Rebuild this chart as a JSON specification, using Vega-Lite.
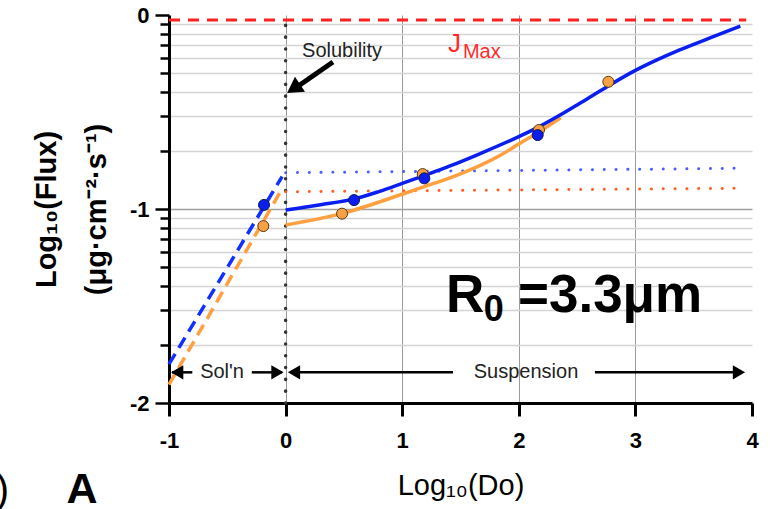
{
  "$schema": "https://vega.github.io/schema/vega-lite/v6.json",
  "width": 583,
  "height": 388,
  "autosize": {"type": "none"},
  "padding": {"left": 169, "top": 15, "right": 23, "bottom": 106},
  "background": "white",
  "config": {
    "view": {"stroke": null},
    "font": "Liberation Sans",
    "text": {"font": "Liberation Sans"}
  },
  "data": {"values": [{}]},
  "datasets": {
    "curves": [
      {"curve": "blue_fit", "x": 0, "y": -1.005},
      {"curve": "blue_fit", "x": 0.3, "y": -0.978},
      {"curve": "blue_fit", "x": 0.59, "y": -0.948},
      {"curve": "blue_fit", "x": 0.8, "y": -0.91},
      {"curve": "blue_fit", "x": 1.0, "y": -0.868},
      {"curve": "blue_fit", "x": 1.2, "y": -0.825},
      {"curve": "blue_fit", "x": 1.41, "y": -0.778},
      {"curve": "blue_fit", "x": 1.67, "y": -0.714},
      {"curve": "blue_fit", "x": 2.0, "y": -0.627},
      {"curve": "blue_fit", "x": 2.18, "y": -0.574},
      {"curve": "blue_fit", "x": 2.35, "y": -0.517},
      {"curve": "blue_fit", "x": 2.52, "y": -0.456},
      {"curve": "blue_fit", "x": 2.75, "y": -0.372},
      {"curve": "blue_fit", "x": 2.98, "y": -0.292},
      {"curve": "blue_fit", "x": 3.18, "y": -0.233},
      {"curve": "blue_fit", "x": 3.38, "y": -0.18},
      {"curve": "blue_fit", "x": 3.64, "y": -0.118},
      {"curve": "blue_fit", "x": 3.9, "y": -0.057},
      {"curve": "orange_fit", "x": 0, "y": -1.082},
      {"curve": "orange_fit", "x": 0.48, "y": -1.024},
      {"curve": "orange_fit", "x": 1.0, "y": -0.924},
      {"curve": "orange_fit", "x": 1.19, "y": -0.885},
      {"curve": "orange_fit", "x": 1.45, "y": -0.83},
      {"curve": "orange_fit", "x": 1.67, "y": -0.775},
      {"curve": "orange_fit", "x": 1.85, "y": -0.72},
      {"curve": "orange_fit", "x": 2.0, "y": -0.665},
      {"curve": "orange_fit", "x": 2.18, "y": -0.6},
      {"curve": "orange_fit", "x": 2.36, "y": -0.53},
      {"curve": "blue_plateau", "x": 0.0, "y": -0.813},
      {"curve": "blue_plateau", "x": 3.9, "y": -0.79},
      {"curve": "orange_plateau", "x": 0.0, "y": -0.911},
      {"curve": "orange_plateau", "x": 3.9, "y": -0.893},
      {"curve": "blue_soln", "x": -1, "y": -1.8},
      {"curve": "blue_soln", "x": -0.03, "y": -0.833},
      {"curve": "orange_soln", "x": -1, "y": -1.905},
      {"curve": "orange_soln", "x": -0.045, "y": -0.911}
    ],
    "points": [
      {"series": "blue", "x": -0.185, "y": -0.979},
      {"series": "blue", "x": 0.587, "y": -0.954},
      {"series": "blue", "x": 1.19, "y": -0.842},
      {"series": "blue", "x": 2.162, "y": -0.619},
      {"series": "orange", "x": -0.191, "y": -1.088},
      {"series": "orange", "x": 0.484, "y": -1.024},
      {"series": "orange", "x": 1.176, "y": -0.82},
      {"series": "orange", "x": 2.173, "y": -0.593},
      {"series": "orange", "x": 2.768, "y": -0.344}
    ]
  },
  "layer": [
    {
      "mark": {"type": "rule", "color": "#333333", "strokeWidth": 3.5, "strokeDash": [0.1, 11.7], "strokeCap": "round"},
      "encoding": {
        "x": {"datum": 0},
        "y": {"datum": -2},
        "y2": {"datum": 0}
      }
    },
    {
      "mark": {"type": "rule", "color": "#ff2020", "strokeWidth": 3, "strokeDash": [11, 8]},
      "encoding": {
        "x": {"datum": -1},
        "x2": {"datum": 3.95},
        "y": {"datum": -0.026}
      }
    },
    {
      "data": {"name": "curves"},
      "transform": [{"filter": "datum.curve === 'orange_plateau'"}],
      "mark": {"type": "line", "color": "#ff5e26", "strokeWidth": 3, "strokeDash": [0.1, 11.7], "strokeCap": "round"},
      "encoding": {
        "x": {"field": "x", "type": "quantitative"},
        "y": {"field": "y", "type": "quantitative"}
      }
    },
    {
      "data": {"name": "curves"},
      "transform": [{"filter": "datum.curve === 'blue_plateau'"}],
      "mark": {"type": "line", "color": "#4b5dff", "strokeWidth": 3, "strokeDash": [0.1, 11.7], "strokeCap": "round"},
      "encoding": {
        "x": {"field": "x", "type": "quantitative"},
        "y": {"field": "y", "type": "quantitative"}
      }
    },
    {
      "data": {"name": "curves"},
      "transform": [{"filter": "datum.curve === 'orange_soln'"}],
      "mark": {"type": "line", "color": "#ff9f40", "strokeWidth": 3.5, "strokeDash": [12, 7]},
      "encoding": {
        "x": {"field": "x", "type": "quantitative"},
        "y": {"field": "y", "type": "quantitative"}
      }
    },
    {
      "data": {"name": "curves"},
      "transform": [{"filter": "datum.curve === 'blue_soln'"}],
      "mark": {"type": "line", "color": "#1030ff", "strokeWidth": 3.5, "strokeDash": [12, 7]},
      "encoding": {
        "x": {"field": "x", "type": "quantitative"},
        "y": {"field": "y", "type": "quantitative"}
      }
    },
    {
      "data": {"name": "curves"},
      "transform": [{"filter": "datum.curve === 'orange_fit'"}],
      "mark": {"type": "line", "color": "#ffa040", "strokeWidth": 3.5, "interpolate": "monotone"},
      "encoding": {
        "x": {"field": "x", "type": "quantitative"},
        "y": {"field": "y", "type": "quantitative"}
      }
    },
    {
      "data": {"name": "curves"},
      "transform": [{"filter": "datum.curve === 'blue_fit'"}],
      "mark": {"type": "line", "color": "#0a1ef0", "strokeWidth": 3.5, "interpolate": "monotone"},
      "encoding": {
        "x": {"field": "x", "type": "quantitative"},
        "y": {"field": "y", "type": "quantitative"}
      }
    },
    {
      "data": {"name": "points"},
      "transform": [{"filter": "datum.series === 'orange'"}],
      "mark": {"type": "point", "shape": "circle", "filled": true, "fill": "#f7a145", "stroke": "#5a3a10", "strokeWidth": 1, "size": 121, "opacity": 1},
      "encoding": {
        "x": {
          "field": "x", "type": "quantitative",
          "scale": {"domain": [-1, 4], "nice": false, "zero": false},
          "axis": {
            "title": "Log₁₀(Do)",
            "values": [-1, 0, 1, 2, 3, 4],
            "tickCount": 100,
            "labelExpr": "datum.value < 0 ? '-' + abs(datum.value) : '' + datum.value",
            "labelFont": "Liberation Sans",
            "labelFontWeight": "bold",
            "labelFontSize": 22,
            "labelColor": "black",
            "labelPadding": 14,
            "labelFlush": false,
            "labelOverlap": false,
            "tickSize": 13,
            "tickWidth": 3,
            "tickColor": "black",
            "domainColor": "black",
            "domainWidth": 3,
            "grid": true,
            "gridColor": {"condition": {"test": "datum.value >= 0 && datum.value <= 3", "value": "#9a9a9a"}, "value": "rgba(0,0,0,0)"},
            "gridWidth": 1,
            "titleFont": "Liberation Sans",
            "titleFontSize": 29,
            "titleFontWeight": "normal",
            "titleColor": "black",
            "titlePadding": 20
          }
        },
        "y": {
          "field": "y", "type": "quantitative",
          "scale": {"domain": [-2, 0], "nice": false, "zero": false},
          "axis": {
            "title": ["Log₁₀(Flux)", "(μg·cm⁻²·s⁻¹)"],
            "values": [0, -0.0458, -0.0969, -0.1549, -0.2218, -0.301, -0.3979, -0.5229, -0.699, -1, -1.0458, -1.0969, -1.1549, -1.2218, -1.301, -1.3979, -1.5229, -1.699, -2],
            "tickCount": 100,
            "labelExpr": "datum.value == 0 ? '0' : datum.value == -1 ? '-1' : datum.value == -2 ? '-2' : ''",
            "labelFont": "Liberation Sans",
            "labelFontWeight": "bold",
            "labelFontSize": 22,
            "labelColor": "black",
            "labelPadding": 6,
            "labelOverlap": false,
            "labelFlush": false,
            "tickSize": {"condition": {"test": "datum.value == 0 || datum.value == -1 || datum.value == -2", "value": 14}, "value": 9},
            "tickWidth": 2.5,
            "tickColor": "black",
            "tickDash": [],
            "domainColor": "black",
            "domainWidth": 3,
            "grid": true,
            "gridDash": [],
            "gridColor": {"condition": [{"test": "datum.value == -1", "value": "#a0a0a0"}, {"test": "datum.value == 0 || datum.value == -2", "value": "rgba(0,0,0,0)"}], "value": "#d4d4d4"},
            "gridWidth": 1.5,
            "titleFont": "Liberation Sans",
            "titleFontSize": 29,
            "titleFontWeight": "bold",
            "titleColor": "black",
            "titleLineHeight": 50,
            "titlePadding": 18
          }
        }
      }
    },
    {
      "data": {"name": "points"},
      "transform": [{"filter": "datum.series === 'blue'"}],
      "mark": {"type": "point", "shape": "circle", "filled": true, "fill": "#0a1ef0", "stroke": "#101850", "strokeWidth": 1, "size": 121, "opacity": 1},
      "encoding": {
        "x": {"field": "x", "type": "quantitative"},
        "y": {"field": "y", "type": "quantitative"}
      }
    },
    {
      "mark": {"type": "text", "text": "Solubility", "fontSize": 20, "color": "#222222", "align": "left", "baseline": "alphabetic"},
      "encoding": {"x": {"datum": 0.141}, "y": {"datum": -0.2165}}
    },
    {
      "mark": {"type": "rule", "color": "black", "strokeWidth": 5},
      "encoding": {"x": {"datum": 0.406}, "y": {"datum": -0.242}, "x2": {"datum": 0.1}, "y2": {"datum": -0.37}}
    },
    {
      "mark": {"type": "point", "shape": "triangle-up", "angle": 236, "filled": true, "size": 324, "color": "black", "opacity": 1},
      "encoding": {"x": {"datum": 0.068}, "y": {"datum": -0.379}}
    },
    {
      "mark": {"type": "text", "text": "J", "fontSize": 26, "color": "#ff2a2a", "align": "left", "baseline": "alphabetic"},
      "encoding": {"x": {"datum": 1.393}, "y": {"datum": -0.191}}
    },
    {
      "mark": {"type": "text", "text": "Max", "fontSize": 20, "color": "#ff2a2a", "align": "left", "baseline": "alphabetic"},
      "encoding": {"x": {"datum": 1.521}, "y": {"datum": -0.2216}}
    },
    {
      "mark": {"type": "text", "text": "R", "fontSize": 53, "fontWeight": "bold", "color": "black", "align": "left", "baseline": "alphabetic"},
      "encoding": {"x": {"datum": 1.376}, "y": {"datum": -1.531}}
    },
    {
      "mark": {"type": "text", "text": "0", "fontSize": 36, "fontWeight": "bold", "color": "black", "align": "left", "baseline": "alphabetic"},
      "encoding": {"x": {"datum": 1.7}, "y": {"datum": -1.575}}
    },
    {
      "mark": {"type": "text", "text": "=3.3μm", "fontSize": 53, "fontWeight": "bold", "color": "black", "align": "left", "baseline": "alphabetic"},
      "encoding": {"x": {"datum": 1.993}, "y": {"datum": -1.531}}
    },
    {
      "mark": {"type": "text", "text": "Sol'n", "fontSize": 20, "color": "#222222", "align": "center", "baseline": "middle"},
      "encoding": {"x": {"datum": -0.545}, "y": {"datum": -1.842}}
    },
    {
      "mark": {"type": "text", "text": "Suspension", "fontSize": 20, "color": "#222222", "align": "center", "baseline": "middle"},
      "encoding": {"x": {"datum": 2.062}, "y": {"datum": -1.842}}
    },
    {
      "mark": {"type": "rule", "color": "black", "strokeWidth": 2.5},
      "encoding": {"x": {"datum": -0.974}, "x2": {"datum": -0.8}, "y": {"datum": -1.842}}
    },
    {
      "mark": {"type": "rule", "color": "black", "strokeWidth": 2.5},
      "encoding": {"x": {"datum": -0.29}, "x2": {"datum": -0.03}, "y": {"datum": -1.842}}
    },
    {
      "mark": {"type": "rule", "color": "black", "strokeWidth": 2.5},
      "encoding": {"x": {"datum": 0.05}, "x2": {"datum": 1.436}, "y": {"datum": -1.842}}
    },
    {
      "mark": {"type": "rule", "color": "black", "strokeWidth": 2.5},
      "encoding": {"x": {"datum": 2.653}, "x2": {"datum": 3.86}, "y": {"datum": -1.842}}
    },
    {
      "mark": {"type": "point", "shape": "triangle-left", "filled": true, "size": 200, "color": "black", "opacity": 1},
      "encoding": {"x": {"datum": -0.93}, "y": {"datum": -1.842}}
    },
    {
      "mark": {"type": "point", "shape": "triangle-right", "filled": true, "size": 200, "color": "black", "opacity": 1},
      "encoding": {"x": {"datum": -0.07}, "y": {"datum": -1.842}}
    },
    {
      "mark": {"type": "point", "shape": "triangle-left", "filled": true, "size": 200, "color": "black", "opacity": 1},
      "encoding": {"x": {"datum": 0.072}, "y": {"datum": -1.842}}
    },
    {
      "mark": {"type": "point", "shape": "triangle-right", "filled": true, "size": 200, "color": "black", "opacity": 1},
      "encoding": {"x": {"datum": 3.888}, "y": {"datum": -1.842}}
    },
    {
      "mark": {"type": "text", "text": "A", "fontSize": 43, "fontWeight": "bold", "color": "black", "align": "center", "baseline": "alphabetic"},
      "encoding": {"x": {"datum": -1.746}, "y": {"datum": -2.515}}
    },
    {
      "mark": {"type": "text", "text": ")", "fontSize": 40, "color": "black", "align": "right", "baseline": "alphabetic"},
      "encoding": {"x": {"datum": -2.372}, "y": {"datum": -2.515}}
    }
  ]
}
